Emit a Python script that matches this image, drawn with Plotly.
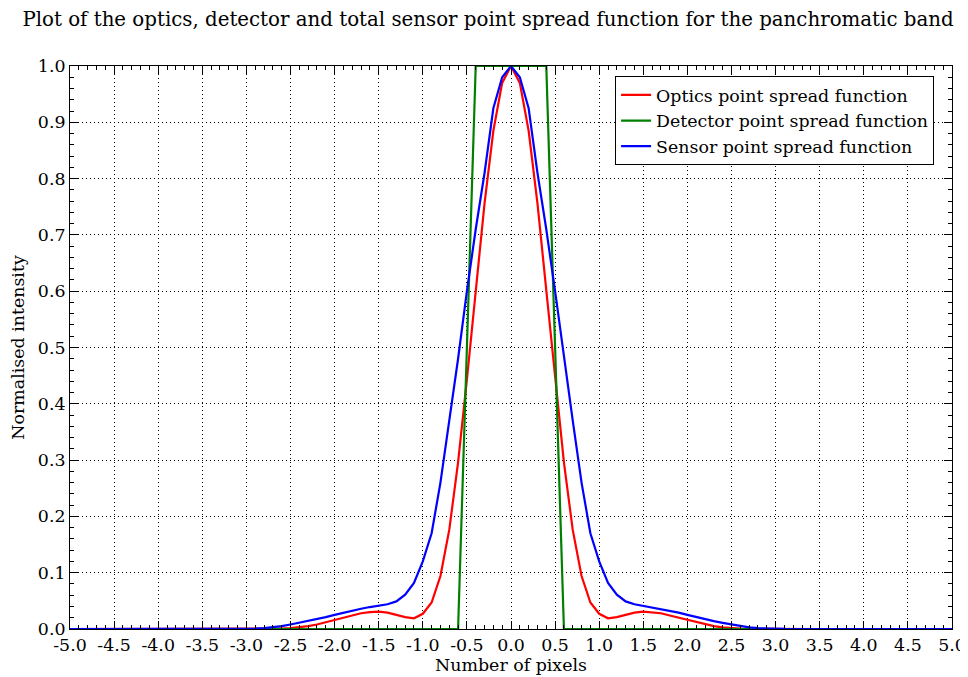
import plotly.graph_objects as go

# x positions (pixels), 0.1 step, positive half; curves are symmetric
x_half = [0.0, 0.1, 0.2, 0.3, 0.4, 0.5, 0.6, 0.7, 0.8, 0.9,
          1.0, 1.1, 1.2, 1.3, 1.4, 1.5, 1.6, 1.7, 1.8, 1.9,
          2.0, 2.1, 2.2, 2.3, 2.4, 2.5, 2.6, 2.7, 2.8, 2.9,
          3.0, 3.1, 3.2, 3.3, 3.4, 3.5, 3.6, 3.7, 3.8, 3.9,
          4.0, 4.1, 4.2, 4.3, 4.4, 4.5, 4.6, 4.7, 4.8, 4.9, 5.0]

optics_half = [1.0, 0.97, 0.885, 0.756, 0.602, 0.443, 0.296, 0.176, 0.094, 0.047,
               0.027, 0.019, 0.021, 0.025, 0.029, 0.031, 0.030, 0.028, 0.024, 0.020,
               0.016, 0.012, 0.008, 0.005, 0.003, 0.0015, 0.0007, 0.0003, 0.0001, 0.0,
               0.0, 0.0, 0.0, 0.0, 0.0, 0.0, 0.0, 0.0, 0.0, 0.0,
               0.0, 0.0, 0.0, 0.0, 0.0, 0.0, 0.0, 0.0, 0.0, 0.0, 0.0]

detector_half = [1.0, 1.0, 1.0, 1.0, 1.0, 0.5, 0.0, 0.0, 0.0, 0.0,
                 0.0, 0.0, 0.0, 0.0, 0.0, 0.0, 0.0, 0.0, 0.0, 0.0,
                 0.0, 0.0, 0.0, 0.0, 0.0, 0.0, 0.0, 0.0, 0.0, 0.0,
                 0.0, 0.0, 0.0, 0.0, 0.0, 0.0, 0.0, 0.0, 0.0, 0.0,
                 0.0, 0.0, 0.0, 0.0, 0.0, 0.0, 0.0, 0.0, 0.0, 0.0, 0.0]

sensor_half = [1.0, 0.98, 0.925, 0.81, 0.71, 0.60, 0.48, 0.37, 0.26, 0.17,
               0.12, 0.082, 0.061, 0.049, 0.044, 0.041, 0.039, 0.036, 0.033, 0.029,
               0.025, 0.021, 0.017, 0.014, 0.011, 0.008, 0.005, 0.003, 0.0015, 0.0007,
               0.0003, 0.0001, 0.0, 0.0, 0.0, 0.0, 0.0, 0.0, 0.0, 0.0,
               0.0, 0.0, 0.0, 0.0, 0.0, 0.0, 0.0, 0.0, 0.0, 0.0, 0.0]


def mirror(xs, ys):
    xx = [-v for v in xs[:0:-1]] + xs
    yy = ys[:0:-1] + ys
    return xx, yy


x_o, y_o = mirror(x_half, optics_half)
x_d, y_d = mirror(x_half, detector_half)
x_s, y_s = mirror(x_half, sensor_half)

x_ticks = [-5.0 + 0.5 * i for i in range(21)]
x_tick_text = ["%.1f" % v for v in x_ticks]
y_ticks = [0.1 * i for i in range(11)]
y_tick_text = ["%.1f" % v for v in y_ticks]

FONT = "DejaVu Serif"
FS = 17.4

# page body has an 8px margin, so the figure is drawn 8px in from top-left
W, H = 960, 669

fig = go.Figure()
fig.add_trace(go.Scatter(x=x_o, y=y_o, mode="lines", name="Optics point spread function",
                         line=dict(color="#ff0000", width=2.2)))
fig.add_trace(go.Scatter(x=x_d, y=y_d, mode="lines", name="Detector point spread function",
                         line=dict(color="#008000", width=2.2)))
fig.add_trace(go.Scatter(x=x_s, y=y_s, mode="lines", name="Sensor point spread function",
                         line=dict(color="#0000ff", width=2.2)))

axis_common = dict(
    showline=True, linecolor="black", linewidth=1, mirror="allticks",
    ticks="inside", ticklen=8, tickwidth=1, tickcolor="black",
    showgrid=True, gridcolor="black", gridwidth=1, griddash="1px,3px",
    zeroline=False, automargin=False,
    tickfont=dict(family=FONT, size=FS, color="black"),
)

fig.update_layout(
    width=W, height=H,
    margin=dict(l=62, r=16, t=58, b=48, autoexpand=False),
    paper_bgcolor="white", plot_bgcolor="white",
    font=dict(family=FONT, size=FS, color="black"),
    title=dict(text="Plot of the optics, detector and total sensor point spread function for the panchromatic band",
               x=0.5, xref="container", xanchor="center",
               y=1 - 11 / H, yref="container", yanchor="middle",
               font=dict(family=FONT, size=19.8, color="black")),
    showlegend=True,
    legend=dict(x=0.618, y=0.982, xanchor="left", yanchor="top",
                bordercolor="black", borderwidth=1, bgcolor="white",
                font=dict(family=FONT, size=FS, color="black"),
                tracegroupgap=0, itemwidth=30),
)

fig.update_xaxes(range=[-5, 5], tickvals=x_ticks, ticktext=x_tick_text,
                 minor=dict(dtick=0.1, tick0=0, ticks="inside", ticklen=4, tickcolor="black", showgrid=False),
                 title=dict(text="Number of pixels", font=dict(family=FONT, size=FS, color="black"), standoff=2),
                 **axis_common)
fig.update_yaxes(range=[0, 1], tickvals=y_ticks, ticktext=y_tick_text,
                 minor=dict(dtick=0.02, tick0=0, ticks="inside", ticklen=4, tickcolor="black", showgrid=False),
                 title=dict(text="Normalised intensity", font=dict(family=FONT, size=FS, color="black"), standoff=8),
                 **axis_common)

fig.write_html("out.html")
